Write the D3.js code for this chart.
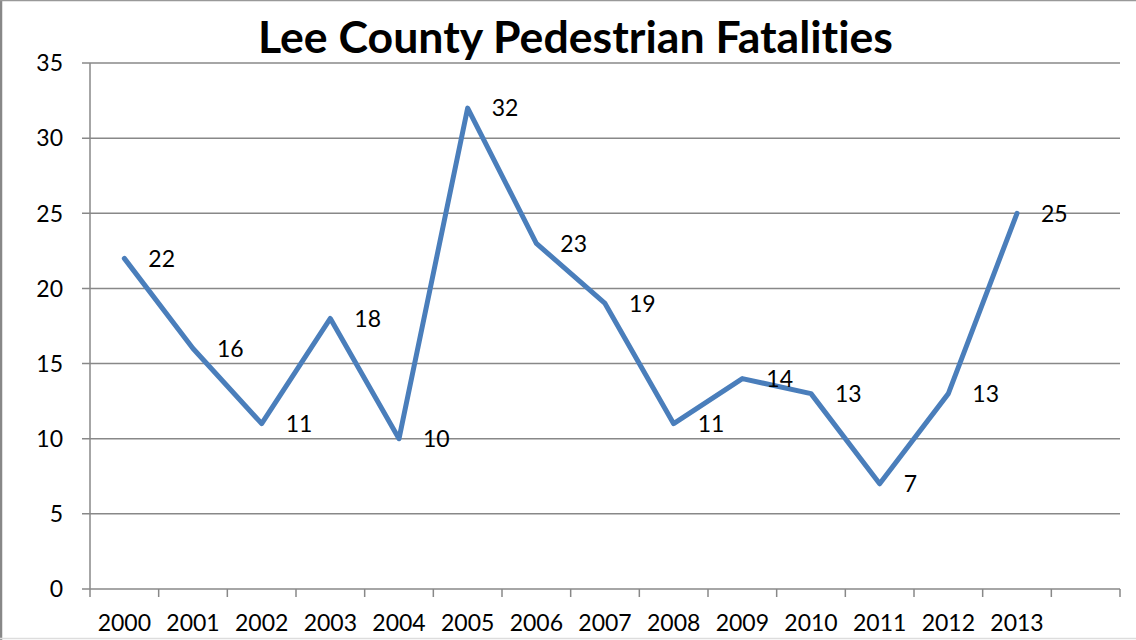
<!DOCTYPE html>
<html><head><meta charset="utf-8">
<script src="https://cdn.jsdelivr.net/npm/d3@7"></script>
<style>
html,body{margin:0;padding:0;background:#fff;}
svg{display:block;}
text{font-family:Lato,"Open Sans",sans-serif;fill:#000;font-variant-ligatures:none;font-feature-settings:"liga" 0;}
</style></head>
<body>
<svg id="c" width="1136" height="640"></svg>
<script>
const years = ["2000","2001","2002","2003","2004","2005","2006","2007","2008","2009","2010","2011","2012","2013",""];
const fatalities = [22,16,11,18,10,32,23,19,11,14,13,7,13,25];
const yTicks = [0,5,10,15,20,25,30,35];
const chartTitle = "Lee County Pedestrian Fatalities";

(function(){
const svg = d3.select("#c");
const W = 1136, H = 640;
const pLeft = 90, pRight = 1120, pTop = 63, pBottom = 589;

// frame
svg.append("rect").attr("x",0).attr("y",0).attr("width",W).attr("height",H).attr("fill","#fff");
svg.append("line").attr("x1",1).attr("x2",1).attr("y1",0).attr("y2",H).attr("stroke","#888").attr("stroke-width",2.5);
svg.append("line").attr("x1",0).attr("x2",W).attr("y1",0.5).attr("y2",0.5).attr("stroke","#999").attr("stroke-width",1.5);
svg.append("line").attr("x1",0).attr("x2",W).attr("y1",638.5).attr("y2",638.5).attr("stroke","#ddd").attr("stroke-width",1.5);

const x = d3.scaleBand().domain(years.map((d,i)=>i)).range([pLeft,pRight]).padding(0);
const y = d3.scaleLinear().domain([0,35]).range([pBottom,pTop]);

// gridlines
svg.append("g").selectAll("line").data(yTicks).join("line")
  .attr("x1",pLeft-8).attr("x2",pRight)
  .attr("y1",d=>y(d)).attr("y2",d=>y(d))
  .attr("stroke","#888").attr("stroke-width",1.5);

// y axis line
svg.append("line").attr("x1",pLeft).attr("x2",pLeft).attr("y1",pTop).attr("y2",pBottom)
  .attr("stroke","#888").attr("stroke-width",1.5);

// y labels
svg.append("g").selectAll("text").data(yTicks).join("text")
  .attr("x",63).attr("y",d=>y(d)).attr("dy","0.36em")
  .attr("text-anchor","end").attr("font-size",23).text(d=>d);

// x ticks
const xt = d3.range(years.length+1).map(i=> i<years.length ? x(i) : pRight);
svg.append("g").selectAll("line").data(xt).join("line")
  .attr("x1",d=>d).attr("x2",d=>d).attr("y1",pBottom).attr("y2",pBottom+8)
  .attr("stroke","#888").attr("stroke-width",1.5);

// x labels
svg.append("g").selectAll("text").data(years).join("text")
  .attr("x",(d,i)=>x(i)+x.bandwidth()/2).attr("y",631)
  .attr("text-anchor","middle").attr("font-size",23).text(d=>d);

// line
svg.append("path").datum(fatalities)
  .attr("d", d3.line().x((d,i)=>x(i)+x.bandwidth()/2).y(d=>y(d)))
  .attr("fill","none").attr("stroke","#4a7ebb").attr("stroke-width",5)
  .attr("stroke-linejoin","round").attr("stroke-linecap","round");

// data labels
svg.append("g").selectAll("text").data(fatalities).join("text")
  .attr("x",(d,i)=>x(i)+x.bandwidth()/2+24).attr("y",d=>y(d)).attr("dy","0.36em")
  .attr("font-size",23).text(d=>d);

// title
const t = svg.append("text").attr("x",(258+893)/2).attr("y",53)
  .attr("text-anchor","middle").attr("font-weight","bold").attr("font-size",40).text(chartTitle);
const len = t.node().getComputedTextLength();
t.attr("font-size", 40*635/len);
})();
</script>
</body></html>
